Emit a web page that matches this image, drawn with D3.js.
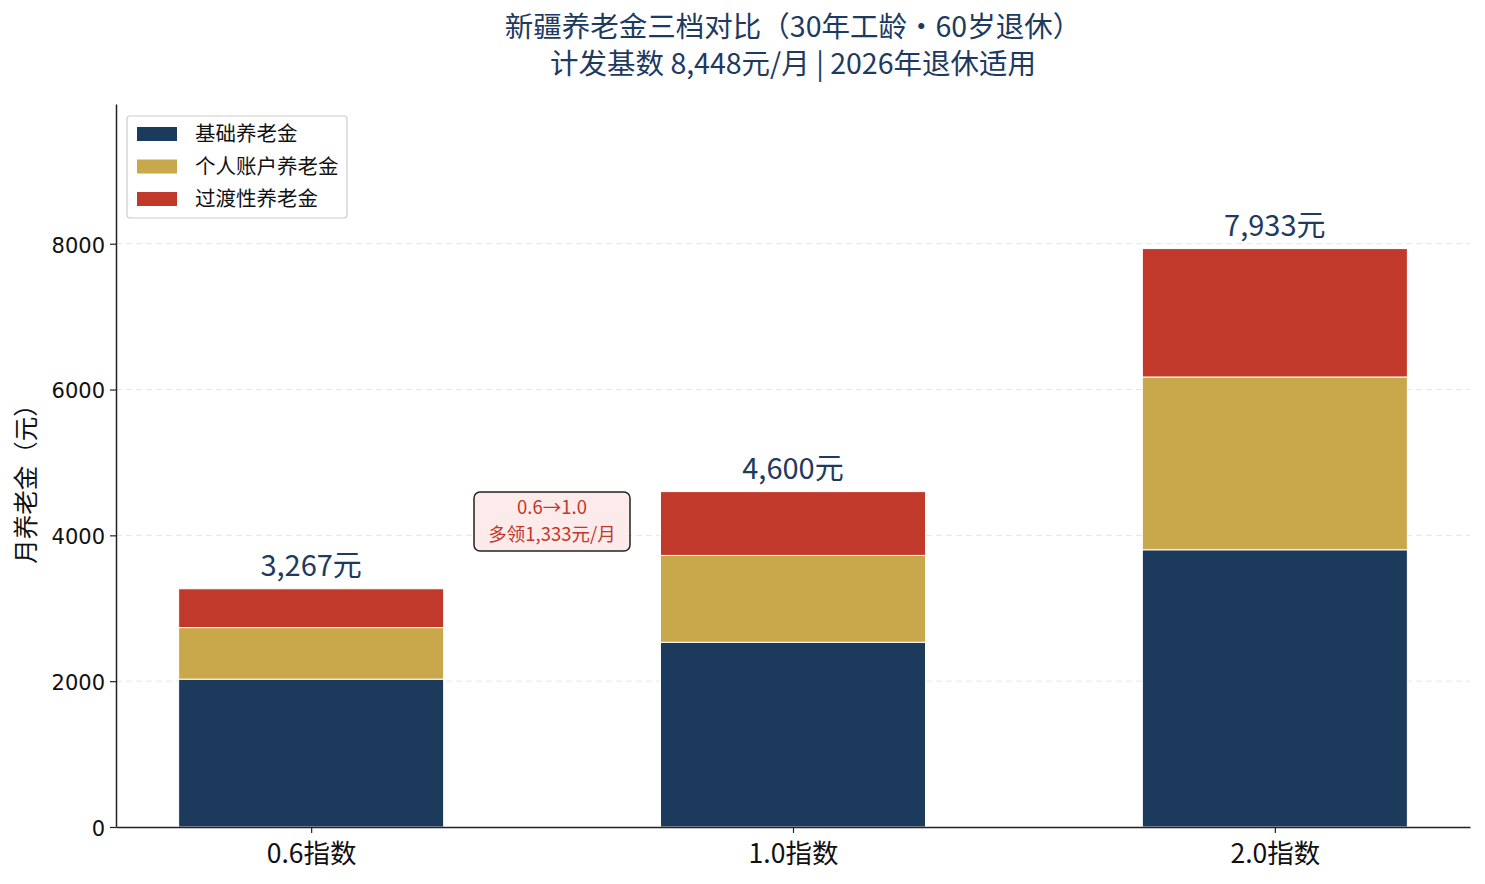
<!DOCTYPE html>
<html><head><meta charset="utf-8">
<script src="https://cdn.jsdelivr.net/npm/d3@7/dist/d3.min.js"></script>
<style>body{margin:0;background:#fff}svg{display:block}</style>
</head><body><svg id="c" width="1485" height="884"></svg>
<script>
const categories = ["0.6指数", "1.0指数", "2.0指数"];
const seriesNames = ["基础养老金", "个人账户养老金", "过渡性养老金"];
const basic = [2028, 2534, 3802];
const personal = [707, 1191, 2370];
const transition = [532, 875, 1761];
const totals = [3267, 4600, 7933];
const yTicks = [0, 2000, 4000, 6000, 8000];
const colors = ["#1b3a5c", "#c9a84c", "#c0392b"];
const titleLines = ["新疆养老金三档对比（30年工龄·60岁退休）", "计发基数 8,448元/月 | 2026年退休适用"];
const annotation = ["0.6→1.0", "多领1,333元/月"];

const svg = d3.select("#c");
const L = 116, R = 1470, T = 104, B = 827;
const x = d3.scaleLinear().domain([-0.405, 2.405]).range([L, R]);
const y = d3.scaleLinear().domain([0, 9916]).range([B, T]);
const bw = 0.55;
const cjk = "'Noto Sans CJK SC', 'Noto Sans', sans-serif";
const navy = "#1e3a5f";

// grid
svg.append("g").selectAll("line").data(yTicks.filter(d => d > 0)).join("line")
  .attr("x1", L).attr("x2", R).attr("y1", d => y(d)).attr("y2", d => y(d))
  .attr("stroke", "#e6e6e6").attr("stroke-dasharray", "6,4").attr("stroke-width", 1);

// stacks
const rows = categories.map((c, i) => ({i, v: [basic[i], personal[i], transition[i]]}));
const segs = [];
rows.forEach(r => { let acc = 0; r.v.forEach((v, k) => { segs.push({i: r.i, k, y0: acc, y1: acc + v}); acc += v; }); });
svg.append("g").selectAll("rect").data(segs).join("rect")
  .attr("x", d => x(d.i - bw / 2)).attr("width", d => x(d.i + bw / 2) - x(d.i - bw / 2))
  .attr("y", d => y(d.y1)).attr("height", d => y(d.y0) - y(d.y1))
  .attr("fill", d => colors[d.k]).attr("stroke", "#fff").attr("stroke-width", 1);

// total labels
svg.append("g").selectAll("text").data(totals).join("text")
  .attr("x", (d, i) => x(i)).attr("y", d => y(d) - 13)
  .attr("text-anchor", "middle").attr("font-family", cjk).attr("font-size", 29)
  .attr("fill", navy).text(d => d3.format(",")(d) + "元");

// axes
const ya = svg.append("g").attr("transform", `translate(${L},0)`)
  .call(d3.axisLeft(y).tickValues(yTicks).tickFormat(d3.format("d")).tickSize(6).tickSizeOuter(0));
ya.select(".domain").attr("stroke", "#222").attr("stroke-width", 1.5);
ya.selectAll(".tick line").attr("stroke", "#222").attr("stroke-width", 1.2);
ya.selectAll(".tick text").attr("font-family", "'DejaVu Sans', sans-serif").attr("font-size", 21).attr("fill", "#111").attr("dx", -2).attr("dy", "0.4em");

const xa = svg.append("g").attr("transform", `translate(0,${B})`)
  .call(d3.axisBottom(x).tickValues([0, 1, 2]).tickFormat(i => categories[i]).tickSize(6).tickSizeOuter(0));
xa.select(".domain").attr("stroke", "#222").attr("stroke-width", 1.5);
xa.selectAll(".tick line").attr("stroke", "#222").attr("stroke-width", 1.2);
xa.selectAll(".tick text").attr("font-family", cjk).attr("font-size", 26.5).attr("fill", "#111").attr("dy", "1.0em");

// y label
svg.append("text").attr("transform", `translate(35,478) rotate(-90)`)
  .attr("text-anchor", "middle").attr("font-family", cjk).attr("font-size", 24.5).attr("fill", "#111")
  .text("月养老金（元）");

// title
svg.append("g").selectAll("text").data(titleLines).join("text")
  .attr("x", 793).attr("y", (d, i) => 37 + i * 37).attr("text-anchor", "middle")
  .attr("font-family", cjk).attr("font-size", 28.5).attr("fill", navy).text(d => d);

// legend
const lg = svg.append("g");
lg.append("rect").attr("x", 127).attr("y", 116).attr("width", 220).attr("height", 102).attr("rx", 3)
  .attr("fill", "#fff").attr("stroke", "#ccc").attr("stroke-width", 1.2);
seriesNames.forEach((n, k) => {
  lg.append("rect").attr("x", 137).attr("y", 127 + k * 32.5).attr("width", 40).attr("height", 14).attr("fill", colors[k]);
  lg.append("text").attr("x", 195).attr("y", 134 + k * 32.5).attr("dy", "0.35em")
    .attr("font-family", cjk).attr("font-size", 20.5).attr("fill", "#111").text(n);
});

// annotation
const ag = svg.append("g");
ag.append("rect").attr("x", 474).attr("y", 492).attr("width", 156).attr("height", 59).attr("rx", 6)
  .attr("fill", "#fdeaea").attr("stroke", "#222").attr("stroke-width", 1.5);
annotation.forEach((t, i) => {
  ag.append("text").attr("x", 552).attr("y", 508 + i * 27).attr("dy", "0.35em").attr("text-anchor", "middle")
    .attr("font-family", cjk).attr("font-size", 18.5).attr("fill", "#c0392b").text(t);
});
</script></body></html>
